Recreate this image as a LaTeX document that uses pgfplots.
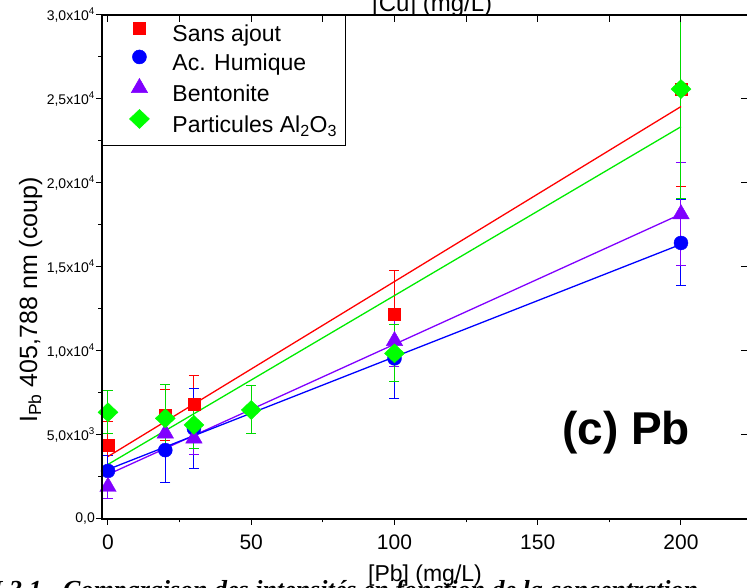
\documentclass[border=0pt]{standalone}
\usepackage{pgfplots}
\pgfplotsset{compat=1.18}
\usepackage{pgfplotstable}
\usepackage{fontspec}
\setmainfont{Liberation Sans}
\newfontfamily\capfont{Liberation Serif}
\definecolor{cred}{RGB}{255,0,0}
\definecolor{cblue}{RGB}{0,0,255}
\definecolor{cpurple}{RGB}{128,0,255}
\definecolor{cgreen}{RGB}{0,255,0}
\definecolor{lgreen}{RGB}{0,235,0}

\pgfplotstableread{
x y e
0 4400 1400
20 6200 1500
30 6830 1700
100 12180 2600
200 25600 5800
}\sansajout
\pgfplotstableread{
x y e
0 2860 900
20 4100 1950
30 5380 2400
100 9560 2400
200 16430 2560
}\humique
\pgfplotstableread{
x y e
0 1920 700
20 5100 800
30 4800 950
100 10600 1550
200 18150 3070
}\bentonite
\pgfplotstableread{
x y e
0 6350 1270
20 5990 2000
30 5600 1400
50 6490 1430
100 9860 1690
200 25590 6540
}\alumine

\begin{document}
\begin{tikzpicture}
\pgfplotsset{
  every axis/.append style={
    scale only axis, width=646pt, height=504pt,
    xmin=-2.094, xmax=223.39, ymin=0, ymax=30000,
    axis line style={line width=1.2pt},
    major tick length=6pt, minor tick length=3.5pt,
    every tick/.style={black, line width=1pt},
    /pgf/number format/assume math mode=true,
  },
}
\begin{axis}[
  xtick={0,50,100,150,200},
  minor x tick num=1,
  ytick={0,5000,10000,15000,20000,25000,30000},
  minor y tick num=1,
  xtick pos=bottom, ytick pos=left,
  tick align=outside,
  scaled y ticks=false,
  xticklabel style={font=\fontsize{21}{21}\selectfont, yshift=-6pt},
  yticklabels={{0,0},{5,0x10\textsuperscript{3}},{1,0x10\textsuperscript{4}},{1,5x10\textsuperscript{4}},{2,0x10\textsuperscript{4}},{2,5x10\textsuperscript{4}},{3,0x10\textsuperscript{4}}},
  yticklabel style={font=\fontsize{14}{14}\selectfont, inner xsep=1pt},
  xlabel={[Pb] (mg/L)},
  xlabel style={font=\fontsize{23}{23}\selectfont, at={(axis description cs:0.5,0)}, anchor=base, yshift=-63pt},
  ylabel={I\textsubscript{Pb} 405,788 nm (coup)},
  ylabel style={font=\fontsize{25}{25}\selectfont, at={(axis description cs:-0.1006,0.4345)}, anchor=base},
  legend style={at={(0,1)}, anchor=north west, draw=black, line width=0.9pt,
    font=\fontsize{23}{23}\selectfont, inner xsep=8pt, inner ysep=7pt,
    row sep=2pt, column sep=0pt,
    nodes={inner sep=0pt, text height=17pt, text depth=6pt}},
  legend cell align=left,
  legend image code/.code={\path[draw=none,fill=none] (0pt,0pt) -- (62pt,0pt); \draw[#1, line width=0.5pt] plot coordinates {(29pt,8pt)};},
]
\addplot[only marks, mark=square*, mark size=6pt, color=cred,
  error bars/.cd, y dir=both, y explicit, error mark=-,
  error bar style={line width=1pt, cred},
  error mark options={rotate=90, mark size=5pt, line width=1pt, cred}]
  table[x=x, y=y, y error=e]{\sansajout};
\addlegendentry{Sans ajout}
\addplot[only marks, mark=*, mark size=7pt, color=cblue,
  error bars/.cd, y dir=both, y explicit, error mark=-,
  error bar style={line width=1pt, cblue},
  error mark options={rotate=90, mark size=5pt, line width=1pt, cblue}]
  table[x=x, y=y, y error=e]{\humique};
\addlegendentry{Ac. Humique}
\addplot[only marks, mark=triangle*, mark size=9.5pt, color=cpurple,
  error bars/.cd, y dir=both, y explicit, error mark=-,
  error bar style={line width=1pt, cpurple},
  error mark options={rotate=90, mark size=5pt, line width=1pt, cpurple}]
  table[x=x, y=y, y error=e]{\bentonite};
\addlegendentry{Bentonite}
\addplot[only marks, mark=diamond*, mark size=9.5pt, mark options={xscale=1.4}, color=cgreen,
  error bars/.cd, y dir=both, y explicit, error mark=-,
  error bar style={line width=1pt, cgreen!85!black},
  error mark options={rotate=90, mark size=5pt, line width=1pt, cgreen!85!black}]
  table[x=x, y=y, y error=e]{\alumine};
\addlegendentry{Particules Al\textsubscript{2}O\textsubscript{3}}
% linear fits
\addplot[cred, line width=1.3pt, no marks, forget plot] coordinates {(0,3720) (200,24550)};
\addplot[lgreen, line width=1.3pt, no marks, forget plot] coordinates {(0,3250) (200,23350)};
\addplot[cpurple, line width=1.3pt, no marks, forget plot] coordinates {(0,2650) (200,18150)};
\addplot[cblue, line width=1.3pt, no marks, forget plot] coordinates {(0,2950) (200,16350)};
\node[font=\bfseries\fontsize{46}{46}\selectfont, anchor=base west] at (rel axis cs:0.707,0.147) {(c) Pb};
\end{axis}
\begin{axis}[
  xtick={0,25,...,200},
  ytick={0,5000,...,30000},
  xticklabels={}, yticklabels={},
  xtick pos=top, ytick pos=right,
  tick align=inside,
  major tick length=7pt,
]
\addplot[draw=none, forget plot] coordinates {(0,0)};
\end{axis}
\node[font=\fontsize{24}{24}\selectfont, anchor=base west, inner sep=0pt] at (270pt,507pt) {[Cu] (mg/L)};
\node[font=\capfont\bfseries\itshape\fontsize{26}{26}\selectfont, anchor=base east, inner sep=0pt] at (-45pt,-80pt) {Figure I.3.1 -};
\node[font=\capfont\bfseries\itshape\fontsize{26}{26}\selectfont, anchor=base west, inner sep=0pt] at (-39pt,-80pt) {Comparaison des intensités en fonction de la concentration};
\pgfresetboundingbox
\useasboundingbox (-102pt,-69pt) rectangle (645pt,519pt);
\end{tikzpicture}
\end{document}
